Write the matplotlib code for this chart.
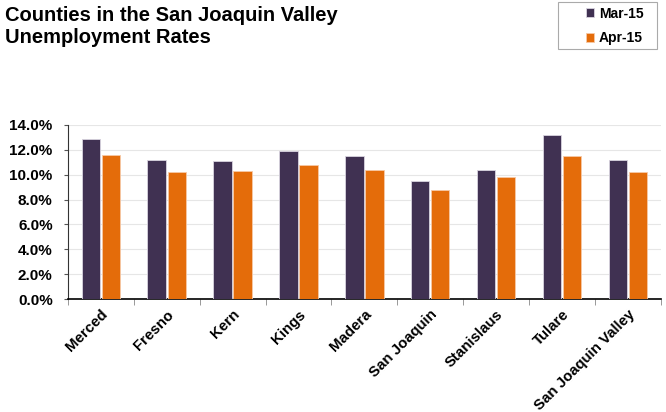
import matplotlib

matplotlib.use("Agg")
import matplotlib.pyplot as plt
import numpy as np
from matplotlib.patches import Rectangle
from matplotlib.ticker import FuncFormatter, MultipleLocator
from matplotlib.transforms import ScaledTranslation

plt.rcParams["font.family"] = ["Liberation Sans", "DejaVu Sans"]

counties = ["Merced", "Fresno", "Kern", "Kings", "Madera", "San Joaquin",
            "Stanislaus", "Tulare", "San Joaquin Valley"]
mar_15 = [12.9, 11.2, 11.1, 11.9, 11.5, 9.5, 10.4, 13.2, 11.2]
apr_15 = [11.6, 10.2, 10.3, 10.8, 10.4, 8.8, 9.8, 11.5, 10.2]

PURPLE = "#403152"
ORANGE = "#E46C0A"

fig = plt.figure(figsize=(6.66, 4.12), dpi=100)
ax = fig.add_axes([0.102, 0.274, 0.890, 0.423])

x = np.arange(len(counties))
width = 0.28
ax.bar(x - 0.152, mar_15, width=width, color=PURPLE, edgecolor="#d9d4e0",
       linewidth=0.6, label="Mar-15", zorder=3)
ax.bar(x + 0.152, apr_15, width=width, color=ORANGE, edgecolor="#f6c9a6",
       linewidth=0.6, label="Apr-15", zorder=3)

ax.set_xlim(-0.5, len(counties) - 0.5)
ax.set_ylim(0, 14)
ax.yaxis.set_major_locator(MultipleLocator(2))
ax.yaxis.set_major_formatter(FuncFormatter(lambda v, _: f"{v:.1f}%"))
ax.grid(axis="y", color="#e6e6e6", linewidth=0.8, zorder=0)

ax.set_xticks(x)
ax.set_xticklabels(counties, rotation=45, ha="right", rotation_mode="anchor",
                   fontsize=10.8, fontweight="bold")
shift = ScaledTranslation(-4 / 100, -3 / 100, fig.dpi_scale_trans)
for lbl in ax.get_xticklabels():
    lbl.set_transform(lbl.get_transform() + shift)
ax.set_xticks(np.arange(-0.5, len(counties), 1), minor=True)
ax.tick_params(axis="x", which="major", length=0, pad=6)
ax.tick_params(axis="x", which="minor", length=4, color="#888888")
ax.tick_params(axis="y", length=3, color="#555555", labelsize=11, pad=8)
for lbl in ax.get_yticklabels():
    lbl.set_fontweight("bold")

for side in ("top", "right"):
    ax.spines[side].set_visible(False)
ax.spines["left"].set_color("#333333")
ax.spines["bottom"].set_color("black")
ax.spines["bottom"].set_linewidth(1.2)

fig.text(0.007, 1 - 6 / 412, "Counties in the San Joaquin Valley\nUnemployment Rates",
         ha="left", va="top", fontsize=14.5, fontweight="bold", linespacing=1.2)

# legend box drawn by hand so its size matches the original
fig.add_artist(Rectangle((558 / 666, 1 - 49 / 412), 99 / 666, 47 / 412,
                         transform=fig.transFigure, facecolor="white",
                         edgecolor="#aaaaaa", linewidth=0.8))
leg = fig.legend(loc="upper left", bbox_to_anchor=(583 / 666, 1 - 4 / 412),
                 frameon=False, handlelength=0.6, handleheight=0.6,
                 handletextpad=0.35, borderpad=0.2, labelspacing=0.75,
                 prop={"weight": "bold", "size": 10}, borderaxespad=0)

fig.savefig("out.png", dpi=100)
